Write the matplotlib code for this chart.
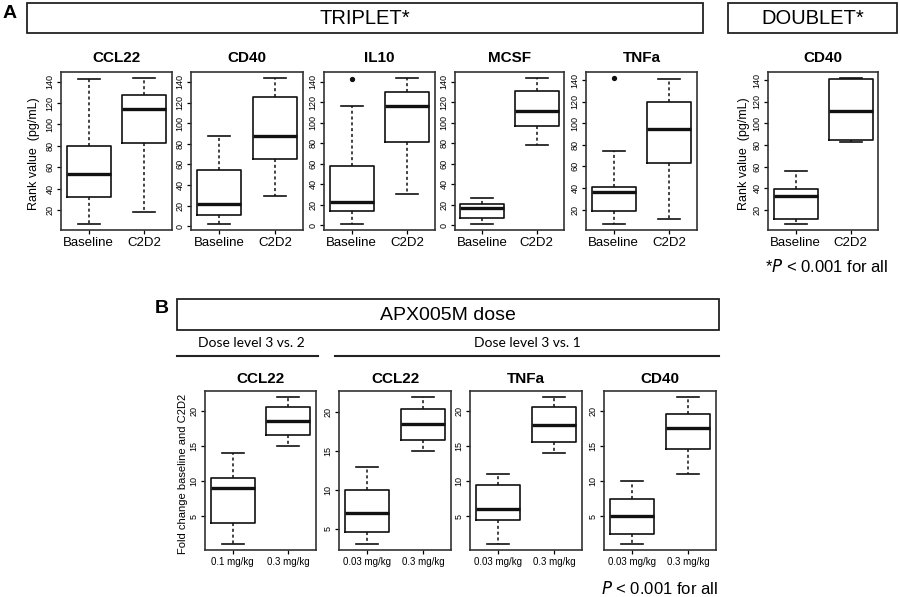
import matplotlib
matplotlib.use("Agg")
import matplotlib.pyplot as plt
from matplotlib.patches import Rectangle

plt.rcParams['font.family'] = ['Liberation Sans', 'DejaVu Sans']

# box stats: whisker low, Q1, median, Q3, whisker high
visit_labels = ["Baseline", "C2D2"]
triplet_markers = ["CCL22", "CD40", "IL10", "MCSF", "TNFa"]
triplet_baseline = [[7, 32, 53.5, 80, 142.5],
                    [2, 11, 21.5, 55, 88],
                    [1, 14, 23, 57.5, 116],
                    [1, 7, 16.5, 21, 27],
                    [6.5, 18.5, 36, 41, 74]]
triplet_c2d2 = [[18, 83, 114.5, 127.5, 143.5],
                [29, 65.5, 87.5, 125.5, 144],
                [30, 81, 116, 130.5, 144],
                [78, 97, 112, 131.5, 144],
                [11, 63.5, 94.5, 120, 141]]
triplet_baseline_out = [[], [], [142.5], [], [142]]
triplet_c2d2_out = [[], [], [], [], []]

doublet_markers = ["CD40"]
doublet_baseline = [[7, 12, 33, 39, 56]]
doublet_c2d2 = [[83, 85, 111, 141, 142]]

dose_markers = ["CCL22", "CCL22", "TNFa", "CD40"]
dose_low_labels = ["0.1 mg/kg", "0.03 mg/kg", "0.03 mg/kg", "0.03 mg/kg"]
dose_high_label = "0.3 mg/kg"
dose_low = [[1, 4, 9, 10.5, 14],
            [3, 4.5, 7, 10, 13],
            [1, 4.5, 6, 9.5, 11],
            [1, 2.5, 5, 7.5, 10]]
dose_high = [[15, 16.5, 18.5, 20.5, 22],
             [15, 16.5, 18.5, 20.5, 22],
             [14, 15.5, 18, 20.5, 22],
             [11, 14.5, 17.5, 19.5, 22]]

rank_ticks = [0, 20, 40, 60, 80, 100, 120, 140]
fold_ticks = [5, 10, 15, 20]

W, H = 900, 597
fig = plt.figure(figsize=(W / 100, H / 100), dpi=100)

# overlay in pixel coords for headers / labels
ov = fig.add_axes([0, 0, 1, 1])
ov.set_xlim(0, W)
ov.set_ylim(H, 0)
ov.axis("off")


def px_axes(x0, x1, y0, y1):
    return fig.add_axes([x0 / W, 1 - y1 / H, (x1 - x0) / W, (y1 - y0) / H])


def stats(v, fl):
    return dict(whislo=v[0], q1=v[1], med=v[2], q3=v[3], whishi=v[4], fliers=fl)


def box_panel(ax, lo, hi, lo_out, hi_out, ticks, xlabels, title,
              xfs, title_pad, ylabel=None, ylabel_x=-0.3, ylabel_fs=9):
    ax.bxp([stats(lo, lo_out), stats(hi, hi_out)], positions=[1, 2],
           widths=0.8, capwidths=0.4,
           boxprops=dict(color="#111111", lw=1.2),
           medianprops=dict(color="#111111", lw=2.4, solid_capstyle="butt"),
           whiskerprops=dict(color="#111111", lw=1.1, linestyle=(0, (2.0, 1.8))),
           capprops=dict(color="#111111", lw=1.2),
           flierprops=dict(marker="o", markersize=2.8, markerfacecolor="#111111",
                           markeredgecolor="#111111"))
    vals = lo + hi + lo_out + hi_out
    vmin, vmax = min(vals), max(vals)
    pad = 0.04 * (vmax - vmin)
    ax.set_ylim(vmin - pad, vmax + pad)
    ax.set_xlim(0.5, 2.5)
    ax.set_yticks([t for t in ticks if vmin - pad <= t <= vmax + pad])
    ax.set_xticks([1, 2])
    ax.set_xticklabels(xlabels, fontsize=xfs)
    ax.tick_params(axis="y", labelsize=6.5, length=3.2, width=0.9, pad=1.5,
                   labelrotation=90)
    ax.tick_params(axis="x", length=3.2, width=0.9, pad=1.5)
    for lab in ax.get_yticklabels():
        lab.set_va("center")
    for s in ax.spines.values():
        s.set_linewidth(1.2)
        s.set_color("#333333")
    ax.set_title(title, fontsize=11, fontweight="bold", pad=title_pad)
    if ylabel:
        ax.text(ylabel_x, 0.48, ylabel, transform=ax.transAxes, rotation=90,
                ha="center", va="center", fontsize=ylabel_fs)


# ---- panel A ----
a_x = [(61, 172), (191, 303), (324, 435), (455, 564), (586, 697)]
for i, name in enumerate(triplet_markers):
    ax = px_axes(a_x[i][0], a_x[i][1], 72, 230)
    box_panel(ax, triplet_baseline[i], triplet_c2d2[i],
              triplet_baseline_out[i], triplet_c2d2_out[i], rank_ticks,
              visit_labels, name, 9.5, 7.4,
              ylabel="Rank value  (pg/mL)" if i == 0 else None,
              ylabel_x=-0.245)

ax = px_axes(768, 878, 72, 230)
box_panel(ax, doublet_baseline[0], doublet_c2d2[0], [], [], rank_ticks,
          visit_labels, doublet_markers[0], 9.5, 7.4,
          ylabel="Rank value  (pg/mL)", ylabel_x=-0.22)

ov.add_patch(Rectangle((27, 3), 676, 30, fill=False, lw=1.3, ec="#222222"))
ov.add_patch(Rectangle((728, 3), 169, 30, fill=False, lw=1.3, ec="#222222"))
ov.text(365, 18.5, "TRIPLET*", ha="center", va="center", fontsize=14.5)
ov.text(812.5, 18.5, "DOUBLET*", ha="center", va="center", fontsize=14.5)
ov.text(10, 13.5, "A", ha="center", va="center", fontsize=14, fontweight="bold")
ov.text(827, 267, r"*$\it{P}$ < 0.001 for all", ha="center", va="center",
        fontsize=12)

# ---- panel B ----
b_x = [(205, 316), (339, 451), (470, 582), (604, 716)]
for i, name in enumerate(dose_markers):
    ax = px_axes(b_x[i][0], b_x[i][1], 391, 550)
    box_panel(ax, dose_low[i], dose_high[i], [], [], fold_ticks,
              [dose_low_labels[i], dose_high_label], name, 7, 6,
              ylabel="Fold change baseline and C2D2" if i == 0 else None,
              ylabel_x=-0.2, ylabel_fs=8)

ov.add_patch(Rectangle((177, 299), 542, 31, fill=False, lw=1.3, ec="#222222"))
ov.text(448, 315, "APX005M dose", ha="center", va="center", fontsize=14)
ov.text(161.5, 308.5, "B", ha="center", va="center", fontsize=14,
        fontweight="bold")
ov.text(251, 343, "Dose level 3 vs. 2", ha="center", va="center", fontsize=10,
        family=["Lato", "DejaVu Sans"])
ov.text(527, 343, "Dose level 3 vs. 1", ha="center", va="center", fontsize=10,
        family=["Lato", "DejaVu Sans"])
ov.plot([177, 318], [356, 356], color="#222222", lw=1.5)
ov.plot([335, 719], [356, 356], color="#222222", lw=1.5)
ov.text(718, 588, r"$\it{P}$ < 0.001 for all", ha="right", va="center",
        fontsize=12)

fig.savefig("out.png", dpi=100)
